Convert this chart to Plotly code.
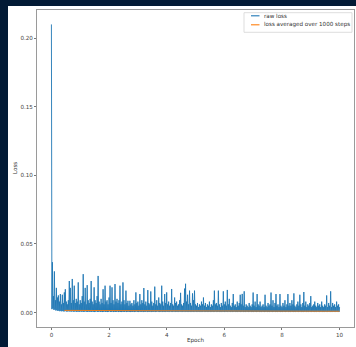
import numpy as np
import plotly.graph_objects as go

# Raw training loss, in units of 1e-3. The series alternates a local high
# and a local low for every logged step window.
raw_loss_highs_e3 = [
    210, 36.7, 12, 30, 9, 18, 11, 12.5, 8, 13.5,
    6, 13, 7, 14.7, 17, 8, 6, 9, 23, 18,
    7, 24.5, 9, 19.6, 7, 10, 8, 22, 6, 9,
    7, 12, 28, 8, 18, 6, 20, 9, 7, 10,
    23, 8, 6, 18.4, 9, 7, 12, 26.7, 8, 6,
    10, 7, 17, 6, 19.6, 8, 9, 6, 11, 19.6,
    7, 18.4, 9, 6, 20.8, 8, 10, 7, 9, 19.6,
    6, 8, 22, 9, 6, 16, 7, 8.6, 5, 8.6,
    6, 7, 5, 9, 6, 14.7, 7, 8, 5, 13.5,
    6, 9, 7, 17.9, 6, 8, 5, 16.4, 7, 6,
    15.4, 8, 5, 7, 18.9, 6, 9, 5, 11, 7,
    6, 19.6, 8, 5, 13.5, 7, 14.7, 6, 8, 5,
    7, 17.2, 6, 5, 11, 7, 8, 5, 6, 9,
    14.4, 6, 5, 7, 17.5, 21, 8, 13, 6, 16,
    7, 5, 14, 9, 16, 6, 5, 7, 4, 6,
    5, 8, 6, 11, 5, 7, 4, 6, 5, 8,
    4, 6, 5, 9, 16, 6, 7, 5, 16, 6,
    4, 7, 5, 15.5, 6, 8, 5, 16.5, 6, 10,
    5, 4, 7, 13.5, 5, 6, 4, 8, 5, 7,
    13, 6, 13.6, 5, 15.5, 4, 6, 5, 4, 7,
    5, 4, 6, 14.6, 5, 8, 4, 13.5, 6, 5,
    8, 4, 5, 6, 4, 13, 5, 4, 7, 5,
    6, 14.6, 5, 9, 4, 7, 13.5, 5, 6, 4,
    13.5, 5, 4, 7, 5, 9, 4, 6, 13.5, 5,
    7, 5, 9, 6, 14, 5, 4, 6, 8, 5,
    13, 6, 4, 7, 15, 5, 8, 4, 6, 5,
    7, 12, 4, 5, 6, 8, 5, 4, 7, 5,
    6, 4, 8, 5, 4, 6, 5, 12.5, 4, 7,
    5, 15.5, 4, 7, 5, 6, 4, 8, 5, 6, 4,
]
raw_loss_lows_e3 = [
    2.5, 3.0, 2.0, 2.2, 1.5, 1.8, 1.2, 1.5, 1.0, 1.3,
    0.9, 1.2, 0.8, 1.0, 1.1, 0.7, 0.9, 1.0, 0.8, 0.9,
    0.7, 1.0, 0.6, 0.8, 0.9, 0.5, 0.8, 0.7, 0.6, 0.9,
    0.6, 0.8, 0.5, 0.7, 0.9, 0.6, 0.5, 0.8, 0.6, 0.7,
    0.5, 0.8, 0.6, 0.4, 0.7, 0.9, 0.5, 0.6, 0.8, 0.5,
    0.7, 0.4, 0.6, 0.8, 0.5, 0.7, 0.4, 0.6, 0.9, 0.5,
    0.6, 0.8, 0.4, 0.7, 0.5, 0.6, 0.8, 0.4, 0.7, 0.5,
    0.4, 0.7, 0.6, 0.5, 0.8, 0.4, 0.6, 0.7, 0.5, 0.4,
    0.6, 0.5, 0.7, 0.4, 0.6, 0.8, 0.5, 0.4, 0.7, 0.6,
    0.5, 0.7, 0.4, 0.6, 0.5, 0.8, 0.4, 0.6, 0.5, 0.7,
    0.4, 0.6, 0.5, 0.7, 0.4, 0.5, 0.8, 0.6, 0.4, 0.5,
    0.7, 0.4, 0.6, 0.5, 0.4, 0.7, 0.5, 0.6, 0.4, 0.8,
    0.5, 0.4, 0.6, 0.7, 0.4, 0.5, 0.6, 0.4, 0.7, 0.5,
    0.6, 0.4, 0.5, 0.7, 0.4, 0.6, 0.5, 0.4, 0.6, 0.5,
    0.4, 0.6, 0.5, 0.4, 0.7, 0.5, 0.4, 0.6, 0.5, 0.4,
    0.6, 0.4, 0.5, 0.7, 0.4, 0.5, 0.6, 0.4, 0.5, 0.6,
    0.4, 0.5, 0.6, 0.4, 0.5, 0.7, 0.4, 0.5, 0.6, 0.4,
    0.5, 0.4, 0.6, 0.5, 0.4, 0.6, 0.5, 0.4, 0.7, 0.5,
    0.4, 0.6, 0.4, 0.5, 0.6, 0.4, 0.5, 0.4, 0.6, 0.5,
    0.4, 0.5, 0.6, 0.4, 0.5, 0.4, 0.6, 0.5, 0.4, 0.5,
    0.6, 0.4, 0.5, 0.4, 0.6, 0.5, 0.4, 0.5, 0.6, 0.4,
    0.5, 0.4, 0.6, 0.5, 0.4, 0.5, 0.6, 0.4, 0.5, 0.4,
    0.6, 0.5, 0.4, 0.5, 0.6, 0.4, 0.5, 0.4, 0.6, 0.5,
    0.4, 0.5, 0.4, 0.6, 0.5, 0.4, 0.5, 0.6, 0.4, 0.5,
    0.4, 0.6, 0.5, 0.4, 0.5, 0.4, 0.6, 0.5, 0.4, 0.5,
    0.6, 0.4, 0.5, 0.4, 0.5, 0.6, 0.4, 0.5, 0.4, 0.6,
    0.5, 0.4, 0.6, 0.5, 0.4, 0.5, 0.4, 0.6, 0.5, 0.4,
    0.5, 0.6, 0.4, 0.5, 0.4, 0.6, 0.5, 0.4, 0.5, 0.6,
    0.4, 0.5, 0.4, 0.6, 0.5, 0.4, 0.5, 0.6, 0.4, 0.5,
]

# Running mean of the loss over a 1000-step window (units of 1e-3).
avg_epochs = [0.45, 1.0, 1.5, 2.0, 2.5, 3.0, 3.5, 4.0, 4.5, 5.0,
              5.5, 6.0, 6.5, 7.0, 7.5, 8.0, 8.5, 9.0, 9.5, 10.0]
avg_loss_e3 = [1.6, 1.5, 1.5, 1.4, 1.4, 1.3, 1.3, 1.3, 1.2, 1.2,
               1.2, 1.2, 1.1, 1.1, 1.1, 1.1, 1.0, 1.0, 1.0, 1.0]

x_ticks = [0, 2, 4, 6, 8, 10]
y_ticks = [0.00, 0.05, 0.10, 0.15, 0.20]

# interleave highs and lows into one step-ordered series
raw_loss = np.empty(len(raw_loss_highs_e3) + len(raw_loss_lows_e3))
raw_loss[0::2] = raw_loss_highs_e3
raw_loss[1::2] = raw_loss_lows_e3
raw_loss = raw_loss / 1000.0
raw_epoch = np.linspace(0, 10, raw_loss.size)
avg_loss = np.array(avg_loss_e3) / 1000.0

W, H = 356, 347
L, R, T, B = 37, 2, 10, 20
PW, PH = W - L - R, H - T - B


def px(x):
    return (x - L) / PW


def py(y):
    return (H - B - y) / PH


BLUE = "#1f77b4"
ORANGE = "#ff7f0e"
FONT = "DejaVu Sans"
FS = 5.6

fig = go.Figure()
fig.add_trace(go.Scatter(x=raw_epoch, y=raw_loss, mode="lines",
                         line=dict(color=BLUE, width=0.9), name="raw loss"))
fig.add_trace(go.Scatter(x=avg_epochs, y=avg_loss, mode="lines",
                         line=dict(color=ORANGE, width=0.9),
                         name="loss averaged over 1000 steps"))

axis_common = dict(
    showline=True, mirror=True, linecolor="#9a9a9a", linewidth=1,
    ticks="outside", ticklen=2, tickwidth=0.8, tickcolor="#777",
    showgrid=False, zeroline=False,
    tickfont=dict(family=FONT, size=FS, color="#444"),
)
fig.update_xaxes(range=[-0.5, 10.5], tickvals=x_ticks,
                 ticktext=[str(v) for v in x_ticks], **axis_common)
fig.update_yaxes(range=[-0.0105, 0.2205], tickvals=y_ticks,
                 ticktext=[f"{v:.2f}" for v in y_ticks], **axis_common)

shapes = [
    # white figure panel on the dark page
    dict(type="rect", xref="paper", yref="paper", layer="below",
         x0=px(8), x1=px(W + 2), y0=py(H + 2), y1=py(6),
         fillcolor="white", line=dict(width=0)),
    # legend frame
    dict(type="rect", xref="paper", yref="paper",
         x0=px(244), x1=px(352), y0=py(32.3), y1=py(12.7),
         fillcolor="white", line=dict(color="#d4d4d4", width=0.8)),
    dict(type="line", xref="paper", yref="paper",
         x0=px(251), x1=px(259.5), y0=py(15.8), y1=py(15.8),
         line=dict(color=BLUE, width=1.1)),
    dict(type="line", xref="paper", yref="paper",
         x0=px(251), x1=px(259.5), y0=py(24.8), y1=py(24.8),
         line=dict(color=ORANGE, width=1.1)),
]

text_font = dict(family=FONT, size=FS, color="#333")
annotations = [
    dict(text="raw loss", x=px(262), y=py(15.5), xref="paper", yref="paper",
         xanchor="left", yanchor="middle", showarrow=False, font=text_font),
    dict(text="loss averaged over 1000 steps", x=px(262), y=py(24.5),
         xref="paper", yref="paper", xanchor="left", yanchor="middle",
         showarrow=False, font=text_font),
    dict(text="Epoch", x=px(196), y=py(340), xref="paper", yref="paper",
         xanchor="center", yanchor="middle", showarrow=False, font=text_font),
    dict(text="Loss", x=px(15), y=py(168), xref="paper", yref="paper",
         xanchor="center", yanchor="middle", textangle=-90,
         showarrow=False, font=text_font),
]

fig.update_layout(
    width=W, height=H,
    margin=dict(l=L, r=R, t=T, b=B, pad=0),
    paper_bgcolor="#021a35", plot_bgcolor="white",
    showlegend=False, shapes=shapes, annotations=annotations,
)

fig.write_html("out.html")
